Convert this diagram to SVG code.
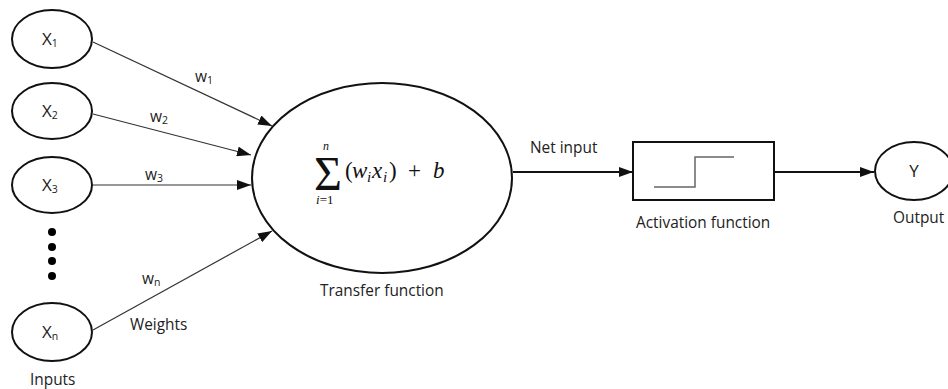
<svg xmlns="http://www.w3.org/2000/svg" width="948" height="389" viewBox="0 0 948 389">
<style>
.node{fill:#fff;stroke:#111;stroke-width:2}
.lbl{font-family:"Open Sans","Liberation Sans",sans-serif;fill:#222;font-size:15.4px}
.xl{font-family:"Open Sans","Liberation Sans",sans-serif;fill:#222;font-size:17px}
.wl{font-family:"Open Sans","Liberation Sans",sans-serif;fill:#222;font-size:15.5px}
.sub{font-size:10.5px}
.in{stroke:#333;stroke-width:1.2;fill:none}
.main{stroke:#111;stroke-width:2.2;fill:none}
.math{font-family:"Liberation Serif","DejaVu Serif",serif;fill:#111}
</style>
<defs>
<marker id="ah2" markerWidth="14" markerHeight="10" refX="14" refY="5" orient="auto" markerUnits="userSpaceOnUse">
<path d="M0,0 L14,5 L0,10 Z" fill="#111"/>
</marker>
</defs>
<rect width="948" height="389" fill="#fff"/>
<g id="connectors">
<line class="in" x1="93" y1="42" x2="272" y2="126" marker-end="url(#ah2)"/>
<line class="in" x1="93" y1="114" x2="251" y2="155" marker-end="url(#ah2)"/>
<line class="in" x1="93" y1="185" x2="251" y2="185" marker-end="url(#ah2)"/>
<line class="in" x1="93" y1="330" x2="272" y2="231" marker-end="url(#ah2)"/>
<line class="main" x1="513" y1="172" x2="633" y2="172" marker-end="url(#ah2)"/>
<line class="main" x1="774" y1="172" x2="874" y2="172" marker-end="url(#ah2)"/>
</g>
<g id="x1"><ellipse class="node" cx="52" cy="39" rx="40" ry="29"/><text class="xl" x="42" y="45">X<tspan class="sub" dy="2">1</tspan></text></g>
<g id="x2"><ellipse class="node" cx="52" cy="111" rx="40" ry="28"/><text class="xl" x="42" y="117">X<tspan class="sub" dy="2">2</tspan></text></g>
<g id="x3"><ellipse class="node" cx="52" cy="185" rx="40" ry="28"/><text class="xl" x="42" y="191">X<tspan class="sub" dy="2">3</tspan></text></g>
<g id="dots" fill="#000"><circle cx="52" cy="232" r="4"/><circle cx="52" cy="247" r="4"/><circle cx="52" cy="261" r="4"/><circle cx="52" cy="276" r="4"/></g>
<g id="xn"><ellipse class="node" cx="52" cy="332" rx="40" ry="29"/><text class="xl" x="42" y="338">X<tspan class="sub" dy="2">n</tspan></text></g>
<g id="weights">
<text class="wl" x="195" y="82">w<tspan class="sub" dy="2">1</tspan></text>
<text class="wl" x="150" y="122">w<tspan class="sub" dy="2">2</tspan></text>
<text class="wl" x="145" y="180">w<tspan class="sub" dy="2">3</tspan></text>
<text class="wl" x="142" y="284">w<tspan class="sub" dy="2">n</tspan></text>
<text class="lbl" x="130" y="330">Weights</text>
<text class="lbl" x="30" y="385">Inputs</text>
</g>
<g id="transfer">
<ellipse class="node" cx="382" cy="178" rx="130" ry="95"/>
<text class="math" x="314" y="190" font-size="48">Σ</text>
<text class="math" x="323" y="150" font-size="12" font-style="italic">n</text>
<text class="math" x="316" y="204" font-size="13"><tspan font-style="italic">i</tspan>=1</text>
<text class="math" y="178" font-size="23"><tspan x="345">(</tspan><tspan x="352" font-style="italic">w</tspan><tspan x="367" font-style="italic" font-size="15" dy="4">i</tspan><tspan x="372" font-style="italic" dy="-4">x</tspan><tspan x="383" font-style="italic" font-size="15" dy="4">i</tspan><tspan x="389" dy="-4">)</tspan><tspan x="408">+</tspan><tspan x="433" font-style="italic">b</tspan></text>
<text class="lbl" x="320" y="296">Transfer function</text>
</g>
<text class="lbl" x="530" y="153">Net input</text>
<g id="activation">
<rect class="node" x="633" y="142" width="141" height="58"/>
<polyline points="654,187 695,187 695,157 734,157" fill="none" stroke="#666" stroke-width="1.5"/>
<text class="lbl" x="636" y="228">Activation function</text>
</g>
<g id="output">
<ellipse class="node" cx="914" cy="171" rx="39" ry="29"/>
<text class="xl" x="914" y="177" text-anchor="middle">Y</text>
<text class="lbl" x="893" y="223">Output</text>
</g>
</svg>
